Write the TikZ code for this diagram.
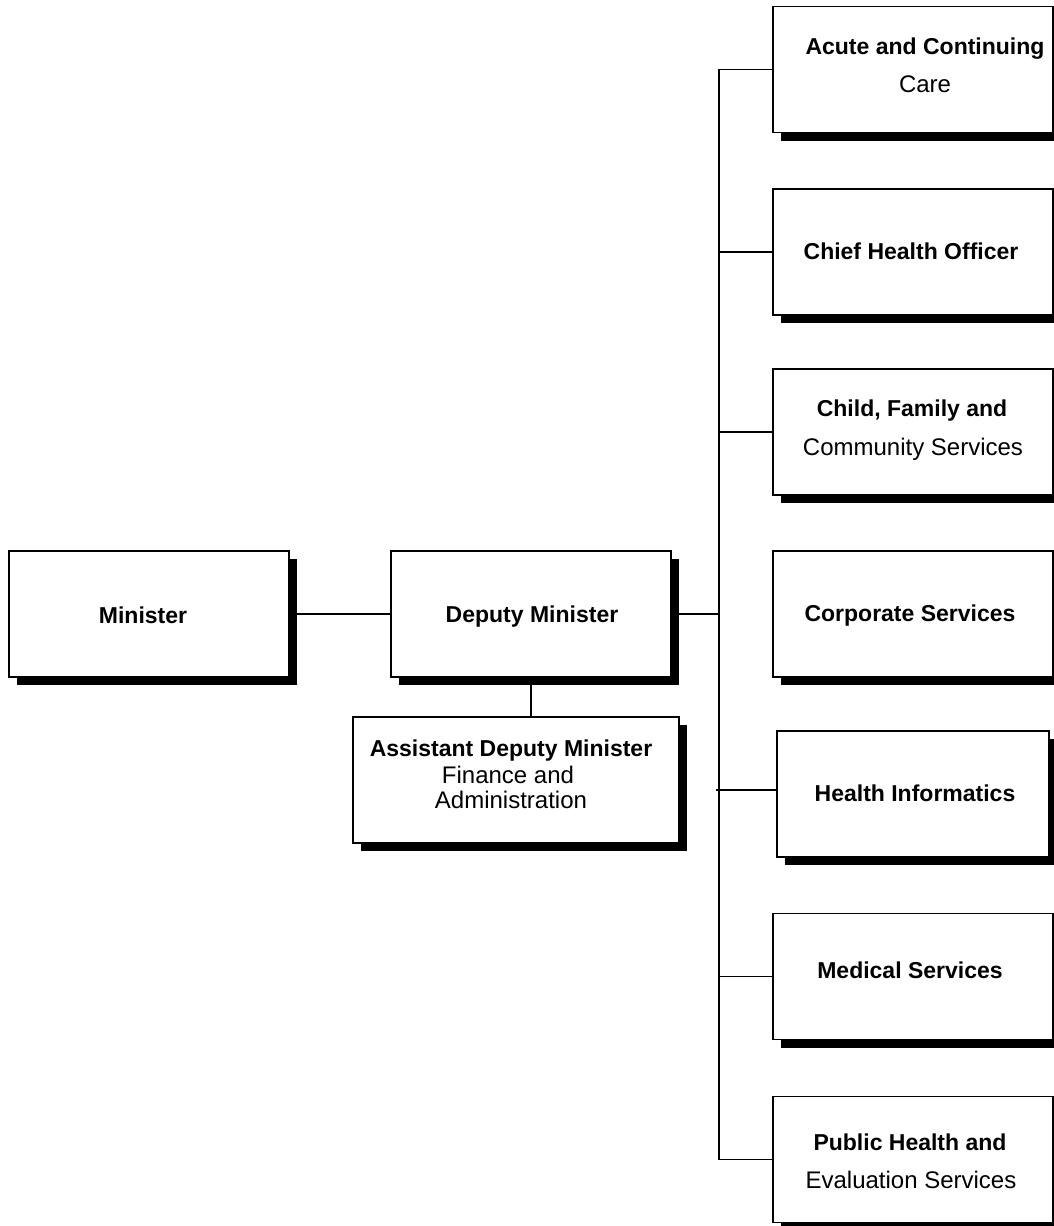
\documentclass[tikz,border=0pt]{standalone}
\usepackage{fontspec}
\setmainfont{Liberation Sans}
\usetikzlibrary{shadows}
\begin{document}
\begin{tikzpicture}[x=1pt,y=-1pt,
  box/.style={draw=black, fill=white, line width=1.6pt, rectangle, minimum width=280pt, minimum height=126pt, inner sep=0pt,
    drop shadow={shadow xshift=8pt, shadow yshift=-8pt, fill=black, opacity=1}},
  conn/.style={line width=1.5pt, line join=miter},
  hd/.style={font=\fontsize{23}{28}\selectfont\bfseries, inner sep=0pt, anchor=base},
  sub/.style={font=\fontsize{24}{28}\selectfont, inner sep=0pt, anchor=base}]
\useasboundingbox (0,0) rectangle (1054,1226);
\clip (0,0) rectangle (1054,1226);
% boxes
\node[box] (min) at (149,614) {};
\node[box] (dep) at (531,614) {};
\node[box, minimum width=326pt] (adm) at (516,780) {};
\node[box] (acute) at (913,69.5) {};
\node[box] (chief) at (913,252) {};
\node[box] (child) at (913,432) {};
\node[box] (corp) at (913,614) {};
\node[box, minimum width=272pt] (hi) at (913,794) {};
\node[box] (med) at (913,976.5) {};
\node[box] (pub) at (913,1159.5) {};
% connectors
\coordinate (j) at (719,614);
\coordinate (hij) at (716,790);
\draw[conn] (min.east) -- (dep.west);
\draw[conn] (dep.east) -- (j);
\draw[conn] (dep.south) -- (dep.south |- adm.north);
\draw[conn] (acute.west) -- (acute.west -| j) -- (pub.west -| j) -- (pub.west);
\draw[conn] (chief.west -| j) -- (chief.west);
\draw[conn] (child.west -| j) -- (child.west);
\draw[conn] (med.west -| j) -- (med.west);
\draw[conn] (hij) -- (hij -| hi.west);
% texts
\node[hd] (tmin) at (143,623) {Minister};
\node[hd] (tdep) at (532,622) {Deputy Minister};
\node[hd] (tadm1) at (511,756) {Assistant Deputy Minister};
\node[sub] (tadm2) at (508,783) {Finance and};
\node[sub] (tadm3) at (511,808) {Administration};
\node[hd] (tac1) at (925,54) {Acute and Continuing};
\node[sub] (tac2) at (925,92) {Care};
\node[hd] (tchief) at (911,259) {Chief Health Officer};
\node[hd] (tch1) at (912,416) {Child, Family and};
\node[sub] (tch2) at (913,455) {Community Services};
\node[hd] (tcorp) at (910,621) {Corporate Services};
\node[hd] (thi) at (915,801) {Health Informatics};
\node[hd] (tmed) at (910,978) {Medical Services};
\node[hd] (tpub1) at (910,1150) {Public Health and};
\node[sub] (tpub2) at (911,1188) {Evaluation Services};
\end{tikzpicture}
\end{document}
